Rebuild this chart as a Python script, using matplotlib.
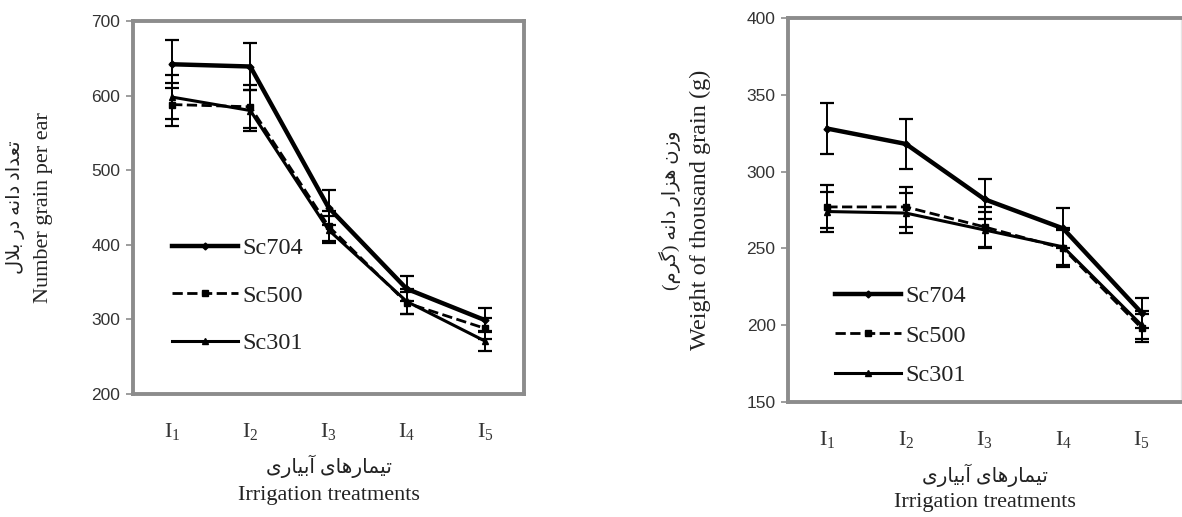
"""
Grain number per ear and thousand-grain weight of three maize hybrids
under five irrigation treatments (two side-by-side line charts with error bars).
"""

import matplotlib
matplotlib.use('Agg')
import matplotlib.pyplot as plt

plt.rcParams['mathtext.fontset'] = 'custom'
plt.rcParams['mathtext.rm'] = 'Liberation Serif'

SERIF = ['Liberation Serif', 'DejaVu Sans']
TICK_COLOR = '#333333'
FRAME_COLOR = '#8c8c8c'

# ── Data ──────────────────────────────────────────────────────────────
treatments = ['I1', 'I2', 'I3', 'I4', 'I5']
tick_labels = [r'$\mathrm{I}_{1}$', r'$\mathrm{I}_{2}$', r'$\mathrm{I}_{3}$',
               r'$\mathrm{I}_{4}$', r'$\mathrm{I}_{5}$']
hybrids = ['Sc704', 'Sc500', 'Sc301']

grain_sc704 = [642, 639, 450, 341, 299]
grain_sc500 = [588, 585, 425, 322, 288]
grain_sc301 = [598, 580, 420, 324, 271]
grain_err_sc704 = [32, 32, 23, 17, 16]
grain_err_sc500 = [29, 29, 20, 15, 14]
grain_err_sc301 = [30, 27, 18, 17, 13]

tgw_sc704 = [328, 318, 282, 263, 208]
tgw_sc500 = [277, 277, 264, 250, 198]
tgw_sc301 = [274, 273, 262, 251, 200]
tgw_err_sc704 = [16.5, 16, 13, 13, 10]
tgw_err_sc500 = [14, 13, 13, 12, 9]
tgw_err_sc301 = [13, 13, 12, 12, 9]

# ── Minimal Persian shaping (matplotlib has no complex text layout) ───
FORMS = {  # isolated, final, initial, medial
    'ا': ('\uFE8D', '\uFE8E', None, None),
    'آ': ('\uFE81', '\uFE82', None, None),
    'ب': ('\uFE8F', '\uFE90', '\uFE91', '\uFE92'),
    'ت': ('\uFE95', '\uFE96', '\uFE97', '\uFE98'),
    'د': ('\uFEA9', '\uFEAA', None, None),
    'ر': ('\uFEAD', '\uFEAE', None, None),
    'ز': ('\uFEAF', '\uFEB0', None, None),
    'ع': ('\uFEC9', '\uFECA', '\uFECB', '\uFECC'),
    'ل': ('\uFEDD', '\uFEDE', '\uFEDF', '\uFEE0'),
    'م': ('\uFEE1', '\uFEE2', '\uFEE3', '\uFEE4'),
    'ن': ('\uFEE5', '\uFEE6', '\uFEE7', '\uFEE8'),
    'ه': ('\uFEE9', '\uFEEA', '\uFEEB', '\uFEEC'),
    'و': ('\uFEED', '\uFEEE', None, None),
    'ی': ('\uFBFC', '\uFBFD', '\uFBFE', '\uFBFF'),
    'گ': ('\uFB92', '\uFB93', '\uFB94', '\uFB95'),
}
LAM_ALEF = ('\uFEFB', '\uFEFC')
MIRROR = {'(': ')', ')': '('}


def shape_fa(text):
    """Return Persian text in visual order with contextual glyph forms."""
    chars = list(text)
    out = []
    i = 0
    while i < len(chars):
        c = chars[i]
        if c not in FORMS:
            out.append(MIRROR.get(c, c))
            i += 1
            continue
        prev = chars[i - 1] if i > 0 else None
        joins_prev = prev in FORMS and FORMS[prev][2] is not None
        if c == 'ل' and i + 1 < len(chars) and chars[i + 1] == 'ا':
            out.append(LAM_ALEF[1] if joins_prev else LAM_ALEF[0])
            i += 2
            continue
        nxt = chars[i + 1] if i + 1 < len(chars) else None
        joins_next = FORMS[c][2] is not None and nxt in FORMS
        iso, fin, ini, med = FORMS[c]
        if joins_prev and joins_next:
            out.append(med)
        elif joins_prev:
            out.append(fin)
        elif joins_next:
            out.append(ini)
        else:
            out.append(iso)
        i += 1
    return ''.join(reversed(out))


xlabel_fa = shape_fa('تیمارهای آبیاری')
xlabel_en = 'Irrigation treatments'
ylabel_grain_fa = shape_fa('تعداد دانه در بلال')
ylabel_grain_en = 'Number grain per ear'
ylabel_tgw_fa = shape_fa('وزن هزار دانه (گرم)')
ylabel_tgw_en = 'Weight of thousand grain (g)'

STYLES = {
    'Sc704': dict(linestyle='-', linewidth=3.2, marker='D', markersize=3.5),
    'Sc500': dict(linestyle='--', linewidth=2.0, marker='s', markersize=4),
    'Sc301': dict(linestyle='-', linewidth=2.2, marker='^', markersize=5),
}


def draw_panel(ax, series, errors, ylim, yticks, ylabel_fa, ylabel_en,
               legend_anchor, labelspacing, fa_y, en_y, fa_x, en_x,
               ylabel_size=16):
    x = list(range(len(treatments)))
    for name, vals, err in zip(hybrids, series, errors):
        ax.errorbar(x, vals, yerr=err, fmt='none', ecolor='black',
                    elinewidth=1.4, capsize=5, capthick=1.6, zorder=2)
        ax.plot(x, vals, color='black', label=name, zorder=3, **STYLES[name])

    ax.set_xlim(-0.5, len(treatments) - 0.5)
    ax.set_ylim(*ylim)
    ax.set_yticks(yticks)
    ax.set_xticks(x)
    ax.set_xticklabels(tick_labels, fontsize=16, color='#333333')
    ax.tick_params(axis='x', length=0, pad=20)
    ax.tick_params(axis='y', length=5, width=1.2, color=FRAME_COLOR,
                   labelsize=12.5, labelcolor=TICK_COLOR, pad=4)
    for lab in ax.get_yticklabels():
        lab.set_fontfamily('Liberation Sans')

    for side in ('left', 'bottom', 'top', 'right'):
        ax.spines[side].set_color(FRAME_COLOR)
        ax.spines[side].set_linewidth(2.8)

    leg = ax.legend(loc='center left', bbox_to_anchor=legend_anchor,
                    frameon=False, handlelength=2.7, handletextpad=0.2,
                    labelspacing=labelspacing, borderpad=0, borderaxespad=0,
                    prop={'family': SERIF, 'size': 17.5})
    for txt in leg.get_texts():
        txt.set_color('#222222')

    ax.text(0.5, fa_y, xlabel_fa, transform=ax.transAxes, ha='center',
            va='center', fontsize=14.5, family=SERIF, color='#222222')
    ax.text(0.5, en_y, xlabel_en, transform=ax.transAxes, ha='center',
            va='center', fontsize=16, family=SERIF, color='#222222')
    ax.text(fa_x, 0.5, ylabel_fa, transform=ax.transAxes, ha='center',
            va='center', rotation=90, fontsize=14, family=SERIF,
            color='#222222')
    ax.text(en_x, 0.5, ylabel_en, transform=ax.transAxes, ha='center',
            va='center', rotation=90, fontsize=ylabel_size, family=SERIF,
            color='#222222')


fig = plt.figure(figsize=(11.82, 5.17), dpi=100)
fig.patch.set_facecolor('white')

W, H = 1182, 517
ax1 = fig.add_axes([133 / W, (H - 394) / H, 391 / W, 373 / H])
ax2 = fig.add_axes([788 / W, (H - 402) / H, 393 / W, 384 / H])

draw_panel(ax1,
           [grain_sc704, grain_sc500, grain_sc301],
           [grain_err_sc704, grain_err_sc500, grain_err_sc301],
           (200, 700), [200, 300, 400, 500, 600, 700],
           ylabel_grain_fa, ylabel_grain_en,
           legend_anchor=(0.10, 0.263), labelspacing=1.05,
           fa_y=-0.195, en_y=-0.272, fa_x=-0.30, en_x=-0.228)

draw_panel(ax2,
           [tgw_sc704, tgw_sc500, tgw_sc301],
           [tgw_err_sc704, tgw_err_sc500, tgw_err_sc301],
           (150, 400), [150, 200, 250, 300, 350, 400],
           ylabel_tgw_fa, ylabel_tgw_en,
           legend_anchor=(0.12, 0.172), labelspacing=0.72,
           fa_y=-0.19, en_y=-0.262, fa_x=-0.30, en_x=-0.222,
           ylabel_size=17.5)
ax2.spines['right'].set_color('#e6e6e6')
ax2.spines['right'].set_linewidth(1.0)

fig.savefig('out.png', dpi=100, facecolor='white')
plt.close(fig)
